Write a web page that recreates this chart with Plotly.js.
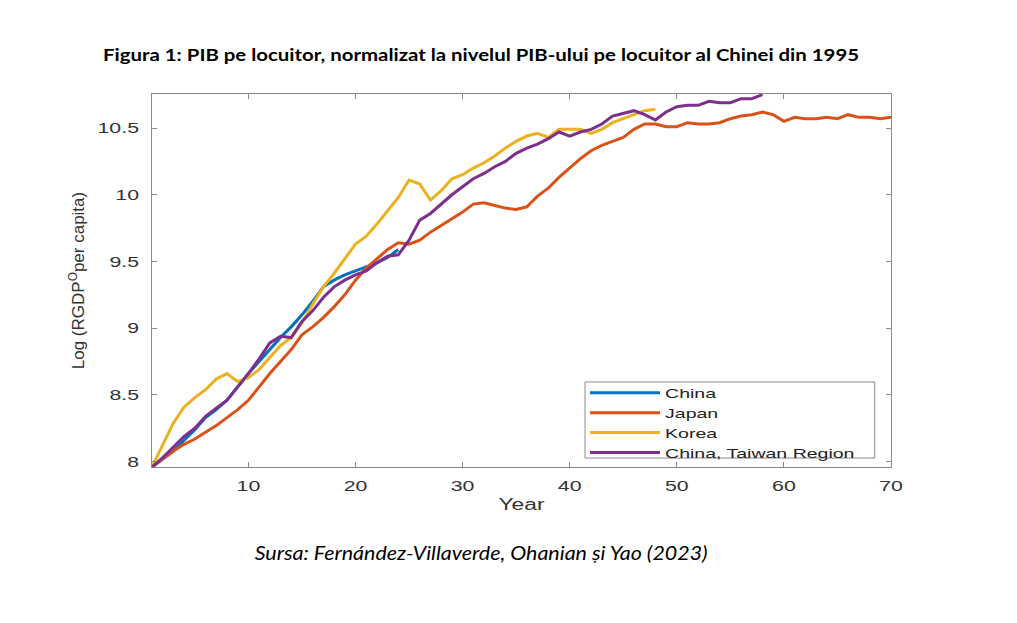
<!DOCTYPE html>
<html>
<head>
<meta charset="utf-8">
<script src="https://cdn.plot.ly/plotly-3.0.1.min.js"></script>
<style>
  html, body { margin: 0; padding: 0; background: #fff; }
  #chart { width: 1017px; height: 623px; }
</style>
</head>
<body>
<div id="chart"></div>
<script>
// years since start (x axis)
const years = [1,2,3,4,5,6,7,8,9,10,11,12,13,14,15,16,17,18,19,20,
  21,22,23,24,25,26,27,28,29,30,31,32,33,34,35,36,37,38,39,40,
  41,42,43,44,45,46,47,48,49,50,51,52,53,54,55,56,57,58,59,60,
  61,62,63,64,65,66,67,68,69,70];

// log GDP per capita
const china = [7.96,8.02,8.08,8.16,8.24,8.33,8.39,8.46,8.56,8.66,
  8.75,8.84,8.93,9.01,9.10,9.20,9.31,9.36,9.40,9.43,
  9.46,9.49,9.53,9.59];

const japan = [7.96,8.02,8.08,8.13,8.17,8.22,8.27,8.33,8.39,8.46,
  8.56,8.66,8.75,8.84,8.95,9.01,9.08,9.16,9.25,9.36,
  9.45,9.52,9.59,9.64,9.63,9.66,9.72,9.77,9.82,9.87,
  9.93,9.94,9.92,9.90,9.89,9.91,9.99,10.05,10.13,10.20,
  10.27,10.33,10.37,10.40,10.43,10.49,10.53,10.53,10.51,10.51,
  10.54,10.53,10.53,10.54,10.57,10.59,10.60,10.62,10.60,10.55,
  10.58,10.57,10.57,10.58,10.57,10.60,10.58,10.58,10.57,10.58];

const korea = [7.96,8.12,8.29,8.41,8.48,8.54,8.62,8.66,8.60,8.63,
  8.69,8.78,8.87,8.93,9.04,9.18,9.31,9.41,9.52,9.63,
  9.69,9.78,9.88,9.98,10.11,10.08,9.96,10.03,10.12,10.15,
  10.20,10.24,10.29,10.35,10.40,10.44,10.46,10.43,10.49,10.49,
  10.49,10.46,10.49,10.54,10.57,10.60,10.63,10.64];

const taiwan = [7.96,8.03,8.11,8.19,8.25,8.34,8.40,8.46,8.56,8.66,
  8.77,8.89,8.94,8.93,9.05,9.13,9.23,9.31,9.36,9.40,
  9.43,9.49,9.54,9.55,9.66,9.81,9.86,9.93,10.00,10.06,
  10.12,10.16,10.21,10.25,10.31,10.35,10.38,10.42,10.47,10.44,
  10.47,10.49,10.53,10.59,10.61,10.63,10.60,10.56,10.62,10.66,
  10.67,10.67,10.70,10.69,10.69,10.72,10.72,10.75];

const seriesNames = ['China', 'Japan', 'Korea', 'China, Taiwan Region'];
const seriesColors = ['#0072BD', '#D95319', '#EDB120', '#7E2F8E'];

const xTicks = [10, 20, 30, 40, 50, 60, 70];
const yTicks = [8, 8.5, 9, 9.5, 10, 10.5];
const yTickText = ['8', '8.5', '9', '9.5', '10', '10.5'];

const axisFont = 'Liberation Sans, Arial, sans-serif';
const docFont = 'Lato, Open Sans, sans-serif';
const gray = '#8a8a8a';

function line(values, i) {
  return {
    type: 'scatter',
    mode: 'lines',
    x: years.slice(0, values.length),
    y: values,
    name: seriesNames[i],
    line: { color: seriesColors[i], width: 3 },
  };
}

const data = [china, japan, korea, taiwan].map(line);

const layout = {
  width: 1017,
  height: 623,
  paper_bgcolor: '#fff',
  plot_bgcolor: '#fff',
  margin: { l: 152, r: 126, t: 94, b: 156 },
  showlegend: true,
  title: {
    text: 'Figura 1: PIB pe locuitor, normalizat la nivelul PIB-ului pe locuitor al Chinei din 1995',
    font: { family: docFont, size: 17.6, weight: 'bold', color: '#000' },
    x: 0.473, xanchor: 'center',
    y: 0.912, yanchor: 'middle',
  },
  xaxis: {
    range: [1, 70],
    tickvals: xTicks,
    ticks: 'inside', ticklen: 5, tickcolor: gray,
    showline: true, linecolor: gray, linewidth: 1, mirror: 'ticks',
    showgrid: false, zeroline: false,
    ticklabelstandoff: 5,
    tickfont: { family: axisFont, size: 15, color: '#333' },
    title: { text: 'Year', standoff: 5, font: { family: axisFont, size: 16, color: '#333' } },
  },
  yaxis: {
    range: [7.96, 10.755],
    tickvals: yTicks,
    ticktext: yTickText,
    ticks: 'inside', ticklen: 5, tickcolor: gray,
    showline: true, linecolor: gray, linewidth: 1, mirror: 'ticks',
    showgrid: false, zeroline: false,
    ticklabelstandoff: 9,
    tickfont: { family: axisFont, size: 15, color: '#333' },
    title: { text: 'Log (RGDP<sup>O</sup>per capita)', standoff: 20, font: { family: axisFont, size: 17, color: '#333' } },
  },
  legend: {
    x: 0.586, xanchor: 'left',
    y: 0.239, yanchor: 'top',
    bgcolor: 'rgba(0,0,0,0)',
    borderwidth: 0,
    font: { family: axisFont, size: 13, color: '#222' },
    itemwidth: 70,
    entrywidth: 220,
    tracegroupgap: 0,
  },
  // legend frame
  shapes: [{
    type: 'rect', xref: 'paper', yref: 'paper', layer: 'above',
    x0: 0.586, x1: 0.978, y0: 0.024, y1: 0.228,
    fillcolor: '#fff', line: { color: gray, width: 1 },
  }],
  annotations: [{
    text: 'Sursa: Fernández-Villaverde, Ohanian și Yao (2023)',
    xref: 'paper', yref: 'paper',
    x: 0.445, y: -0.228,
    xanchor: 'center', yanchor: 'middle',
    showarrow: false,
    font: { family: docFont, size: 19.5, style: 'italic', color: '#000' },
  }],
};

// the original figure is stretched sideways, widen the glyphs to match
function stretch(selector, k, target) {
  document.querySelectorAll(selector).forEach(t => {
    const w = t.getComputedTextLength();
    if (!w) return;
    t.setAttribute('textLength', (target || w * k).toFixed(1));
    t.setAttribute('lengthAdjust', 'spacingAndGlyphs');
  });
}

Plotly.newPlot('chart', data, layout, { displayModeBar: false, staticPlot: true }).then(() => {
  stretch('g.xtick text', 1.42);
  stretch('g.ytick text', 1.42);
  stretch('text.legendtext', 1.5);
  stretch('text.xtitle', 1.42);
  stretch('text.gtitle', 1, 756);
  stretch('text.annotation-text', 1, 453);
  // widened legend labels must not be cut by the legend clip box
  document.querySelectorAll('.legend [clip-path]').forEach(n => n.removeAttribute('clip-path'));
});
</script>
</body>
</html>
